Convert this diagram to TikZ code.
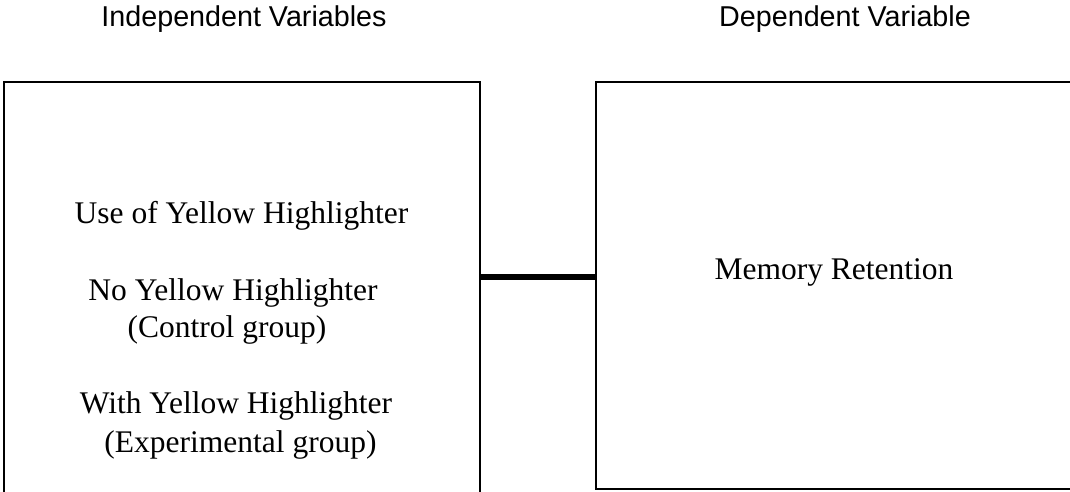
\documentclass[tikz,border=0pt]{standalone}
\usepackage{fontspec}
\setmainfont{Liberation Serif}
\newfontfamily\titlefont{Liberation Sans}
\begin{document}
\begin{tikzpicture}[x=1pt,y=-1pt,
  titletext/.style={anchor=base,inner sep=0pt,font=\titlefont\fontsize{28.7}{34}\selectfont},
  boxtext/.style={anchor=base,inner sep=0pt,font=\fontsize{31.5}{38}\selectfont},
  varbox/.style={draw=black,line width=1.6pt,inner sep=0pt,rectangle}]
\clip (0,0) rectangle (1070,492);
\node[varbox,minimum width=476pt,minimum height=440pt] (leftbox) at (242,302) {};
\node[varbox,minimum width=484pt,minimum height=407pt] (rightbox) at (838,285.5) {};
\node[titletext] (indep) at (244,27) {Independent Variables};
\node[titletext] (dep) at (845,27) {Dependent Variable};
\node[boxtext] (use) at (241.5,223) {Use of Yellow Highlighter};
\node[boxtext] (no) at (233,300) {No Yellow Highlighter};
\node[boxtext] (ctrl) at (227,337) {(Control group)};
\node[boxtext] (with) at (236,413) {With Yellow Highlighter};
\node[boxtext] (exp) at (240.5,452) {(Experimental group)};
\node[boxtext] (mem) at (834,279) {Memory Retention};
\coordinate (conn) at (0,277);
\draw[line width=6pt] (leftbox.east |- conn) -- (rightbox.west |- conn);
\end{tikzpicture}
\end{document}
